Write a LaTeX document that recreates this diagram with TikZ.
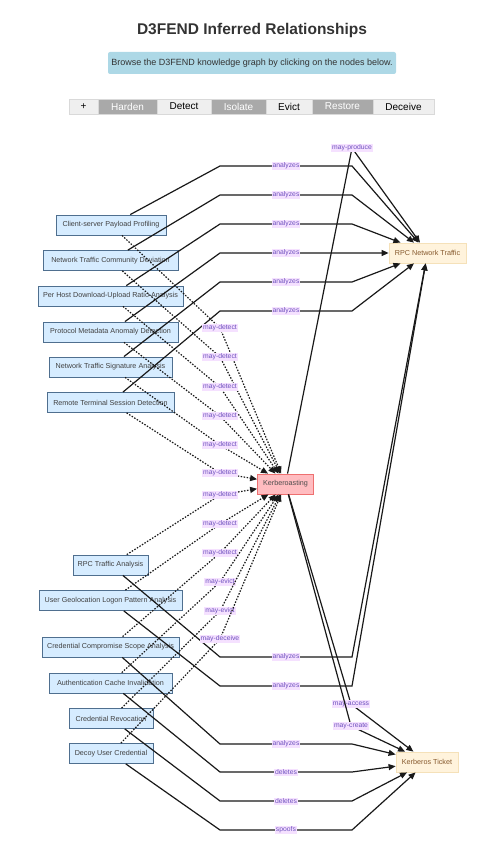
\documentclass[tikz,border=0pt]{standalone}
\usepackage{fontspec}
\setmainfont{Liberation Sans}
\usetikzlibrary{arrows.meta}

\definecolor{techfill}{RGB}{214,236,255}
\definecolor{techline}{RGB}{79,111,143}
\definecolor{offfill}{RGB}{255,188,192}
\definecolor{offline}{RGB}{238,112,112}
\definecolor{artfill}{RGB}{255,243,220}
\definecolor{artline}{RGB}{245,225,185}
\definecolor{relfill}{RGB}{245,225,255}
\definecolor{reltext}{RGB}{110,80,190}
\definecolor{infofill}{RGB}{173,216,230}
\definecolor{btnon}{RGB}{169,169,169}
\definecolor{btnoff}{RGB}{239,239,239}

\begin{document}
\begin{tikzpicture}[x=1pt,y=-1pt,
  tech/.style={draw=techline,fill=techfill,line width=0.8pt,minimum height=20pt,inner sep=0pt,font=\fontsize{7.2}{8}\selectfont,text=black!75},
  offense/.style={draw=offline,fill=offfill,line width=0.8pt,minimum height=20pt,inner sep=0pt,font=\fontsize{7.2}{8}\selectfont,text=black!70},
  artifact/.style={draw=artline,fill=artfill,line width=0.8pt,minimum height=20pt,inner sep=0pt,font=\fontsize{7.2}{8}\selectfont,text=brown!70!black},
  lbl/.style={fill=relfill,text=reltext,inner sep=1pt,font=\fontsize{6.8}{7.5}\selectfont},
  rel/.style={draw=black!90,line width=1.2pt,-{Triangle[length=7pt,width=6pt]}},
  may/.style={rel,dash pattern=on 1.5pt off 1.5pt},
  btn/.style={draw=black!15,fill=btnoff,minimum height=15pt,inner sep=0pt,font=\fontsize{10}{11}\selectfont},
  btnset/.style={btn,fill=btnon,text=white}]
\useasboundingbox (0,0) rectangle (493,845);

% header
\node[font=\bfseries\fontsize{15.5}{17}\selectfont,text=black!80] (title) at (252,30) {D3FEND Inferred Relationships};
\node[fill=infofill,rounded corners=2pt,minimum width=288pt,minimum height=22pt,inner sep=0pt,font=\fontsize{9}{10}\selectfont,text=black!80] (info) at (252,63) {Browse the D3FEND knowledge graph by clicking on the nodes below.};
\node[btn,minimum width=29pt] (plus) at (83.5,106.5) {+};
\node[btnset,minimum width=59pt] (harden) at (127.5,106.5) {Harden};
\node[btn,minimum width=54pt] (detect) at (184,106.5) {Detect};
\node[btnset,minimum width=55pt] (isolate) at (238.5,106.5) {Isolate};
\node[btn,minimum width=46pt] (evict) at (289,106.5) {Evict};
\node[btnset,minimum width=61pt] (restore) at (342.5,106.5) {Restore};
\node[btn,minimum width=61pt] (deceive) at (403.5,106.5) {Deceive};

% techniques
\node[tech,minimum width=110pt] (cs) at (111,225) {Client-server Payload Profiling};
\node[tech,minimum width=135pt] (ntcd) at (110.5,260.5) {Network Traffic Community Deviation};
\node[tech,minimum width=145pt] (phd) at (110.5,296) {Per Host Download-Upload Ratio Analysis};
\node[tech,minimum width=135pt] (pmad) at (110.5,332) {Protocol Metadata Anomaly Detection};
\node[tech,minimum width=123pt] (ntsa) at (110.5,367) {Network Traffic Signature Analysis};
\node[tech,minimum width=127pt] (rtsd) at (110.5,402.5) {Remote Terminal Session Detection};
\node[tech,minimum width=75pt] (rta) at (110.5,565) {RPC Traffic Analysis};
\node[tech,minimum width=143pt] (uglp) at (110.5,600.5) {User Geolocation Logon Pattern Analysis};
\node[tech,minimum width=137pt] (ccsa) at (110.5,647) {Credential Compromise Scope Analysis};
\node[tech,minimum width=123pt] (aci) at (110.5,683) {Authentication Cache Invalidation};
\node[tech,minimum width=84pt] (cr) at (111,718.5) {Credential Revocation};
\node[tech,minimum width=84pt] (duc) at (111,753.5) {Decoy User Credential};

% offensive technique and artifacts
\node[offense,minimum width=56pt] (kr) at (285.5,484) {Kerberoasting};
\node[artifact,minimum width=77pt] (rnt) at (427.5,253) {RPC Network Traffic};
\node[artifact,minimum width=62pt] (kt) at (427,762) {Kerberos Ticket};

% analyzes / deletes / spoofs
\draw[rel] (cs) -- (220,166) -- node[lbl] (a1) {analyzes} (352,166) -- (rnt);
\draw[rel] (ntcd) -- (220,195) -- node[lbl] (a2) {analyzes} (352,195) -- (rnt);
\draw[rel] (phd) -- (220,224) -- node[lbl] (a3) {analyzes} (352,224) -- (rnt);
\draw[rel] (pmad) -- (220,253) -- node[lbl] (a4) {analyzes} (352,253) -- (rnt);
\draw[rel] (ntsa) -- (220,282) -- node[lbl] (a5) {analyzes} (352,282) -- (rnt);
\draw[rel] (rtsd) -- (220,311) -- node[lbl] (a6) {analyzes} (352,311) -- (rnt);
\draw[rel] (rta) -- (220,657) -- node[lbl] (a7) {analyzes} (352,657) -- (rnt);
\draw[rel] (uglp) -- (220,686) -- node[lbl] (a8) {analyzes} (352,686) -- (rnt);
\draw[rel] (ccsa) -- (220,744) -- node[lbl] (a9) {analyzes} (352,744) -- (kt);
\draw[rel] (aci) -- (220,772) -- node[lbl] (del1) {deletes} (352,772) -- (kt);
\draw[rel] (cr) -- (220,801) -- node[lbl] (del2) {deletes} (352,801) -- (kt);
\draw[rel] (duc) -- (220,830) -- node[lbl] (spf) {spoofs} (352,830) -- (kt);

% from Kerberoasting
\draw[rel] (kr) -- (352,148) node[lbl] (prod) {may-produce} -- (rnt);
\draw[rel] (kr) -- (351,704) node[lbl] (acc) {may-access} -- (kt);
\draw[rel] (kr) -- (351,726) node[lbl] (crt) {may-create} -- (kt);

% may-detect / may-evict / may-deceive
\draw[may] (cs) -- (220,328) node[lbl] (d1) {may-detect} -- (kr);
\draw[may] (ntcd) -- (220,357) node[lbl] (d2) {may-detect} -- (kr);
\draw[may] (phd) -- (220,387) node[lbl] (d3) {may-detect} -- (kr);
\draw[may] (pmad) -- (220,416) node[lbl] (d4) {may-detect} -- (kr);
\draw[may] (ntsa) -- (220,445) node[lbl] (d5) {may-detect} -- (kr);
\draw[may] (rtsd) -- (220,473) node[lbl] (d6) {may-detect} -- (kr);
\draw[may] (rta) -- (220,495) node[lbl] (d7) {may-detect} -- (kr);
\draw[may] (uglp) -- (220,524) node[lbl] (d8) {may-detect} -- (kr);
\draw[may] (ccsa) -- (220,553) node[lbl] (d9) {may-detect} -- (kr);
\draw[may] (aci) -- (220,582) node[lbl] (ev1) {may-evict} -- (kr);
\draw[may] (cr) -- (220,611) node[lbl] (ev2) {may-evict} -- (kr);
\draw[may] (duc) -- (220,639) node[lbl] (dcv) {may-deceive} -- (kr);
\end{tikzpicture}
\end{document}
